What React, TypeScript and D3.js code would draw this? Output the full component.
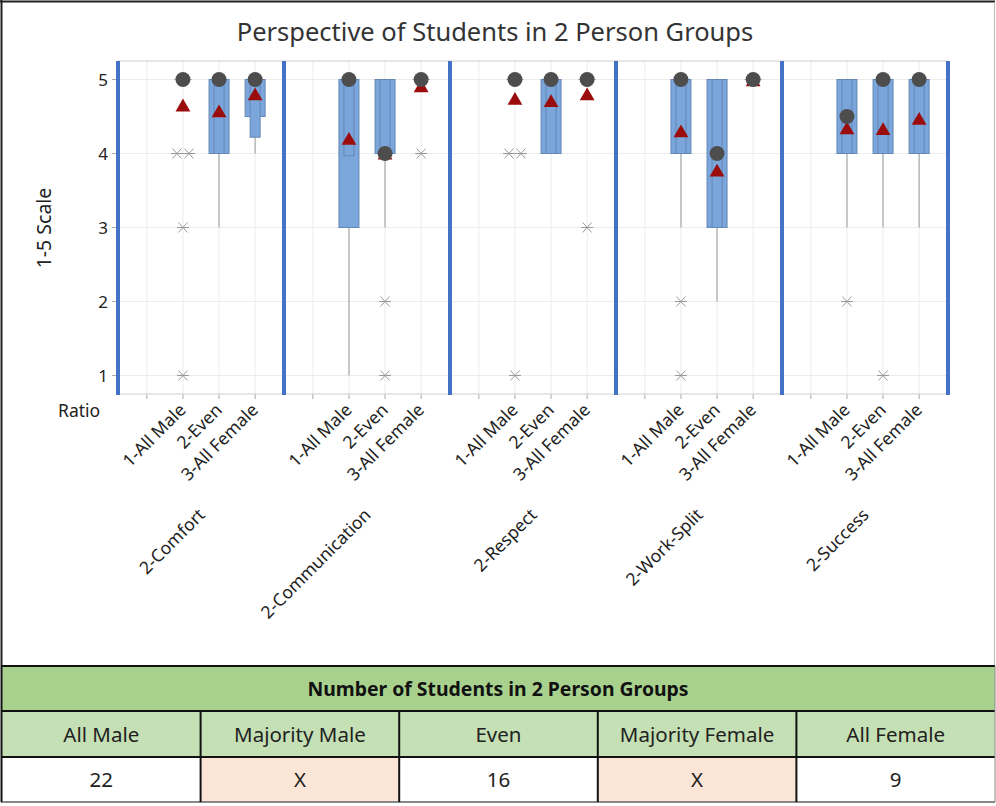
import React from 'react';
import * as d3 from 'd3';

// Panels (question) and groups (ratio) on the x axis
const panels = ['2-Comfort', '2-Communication', '2-Respect', '2-Work-Split', '2-Success'];
const ratios = ['', '1-All Male', '2-Even', '3-All Female'];
const groupKeys = ['1-All Male', '2-Even', '3-All Female'];

const yTicks = [1, 2, 3, 4, 5];

// box statistics, one row per panel, one entry per group
const medians = [[5, 5, 5], [5, 4, 5], [5, 5, 5], [5, 4, 5], [4.5, 5, 5]];
const means = [[4.64, 4.56, 4.79], [4.19, 3.99, 4.9], [4.73, 4.7, 4.79], [4.29, 3.76, 4.98], [4.33, 4.32, 4.46]];
const q1s = [[5, 4, 4.5], [3, 4, 5], [5, 4, 5], [4, 3, 5], [4, 4, 4]];
const q3s = [[5, 5, 5], [5, 5, 5], [5, 5, 5], [5, 5, 5], [5, 5, 5]];
const ciLows = [[5, 4, 4.22], [3.97, 4, 5], [5, 4, 5], [4, 3, 5], [4, 4, 4]];
const ciHighs = [[5, 5, 5], [5, 5, 5], [5, 5, 5], [5, 5, 5], [5, 5, 5]];
const whiskerLows = [[5, 3, 4], [1, 3, 5], [5, 4, 5], [3, 2, 5], [3, 3, 3]];
const outliers = [
  [[4, 4, 3, 1], [], []],
  [[], [2, 1], [4]],
  [[4, 4, 1], [], [3]],
  [[2, 1], [], []],
  [[2], [1], []],
];

// table under the chart
const tableTitle = 'Number of Students in 2 Person Groups';
const groupNames = ['All Male', 'Majority Male', 'Even', 'Majority Female', 'All Female'];
const groupCounts = ['22', 'X', '16', 'X', '9'];

const W = 996;
const H = 806;
const FONT = "'Noto Sans', 'Open Sans', sans-serif";

const plot = { left: 118, right: 948, top: 61, bottom: 394 };

const BLUE = '#4472c4';
const BOX_FILL = '#7ba6db';
const BOX_STROKE = '#6487b5';
const GRID = '#ececec';

const Star: React.FC<{ x: number; y: number }> = ({ x, y }) => (
  <g stroke="#9a9a9a" strokeWidth={1}>
    <line x1={x - 6} y1={y} x2={x + 6} y2={y} />
    <line x1={x - 4.5} y1={y - 5} x2={x + 4.5} y2={y + 5} />
    <line x1={x - 4.5} y1={y + 5} x2={x + 4.5} y2={y - 5} />
  </g>
);

const App: React.FC = () => {
  const y = d3.scaleLinear().domain([0.75, 5.25]).range([plot.bottom, plot.top]);
  const xPanel = d3.scaleBand<string>().domain(panels).range([plot.left, plot.right]);
  const xGroup = d3.scalePoint<string>().domain(ratios).range([0, xPanel.bandwidth()]).padding(0.8);

  const tri = d3.symbol().type(d3.symbolTriangle).size(95)()!;

  const cols = d3.scaleBand<string>().domain(groupNames).range([2, 995]);
  const rowY = [666, 711, 757, 802];

  return (
    <svg width={W} height={H} style={{ position: 'absolute', left: 0, top: 0, background: '#fff' }} fontFamily={FONT}>
      {/* outer frame */}
      <line x1={0} y1={1.5} x2={995} y2={1.5} stroke="#222" strokeWidth={2} />
      <line x1={1.5} y1={0} x2={1.5} y2={666} stroke="#222" strokeWidth={2} />
      <line x1={994.5} y1={2} x2={994.5} y2={666} stroke="#bbb" strokeWidth={1} />

      <text x={495} y={41} textAnchor="middle" fontSize={25.5} fill="#333">
        Perspective of Students in 2 Person Groups
      </text>

      {/* grid */}
      {yTicks.map(t => (
        <g key={`y${t}`}>
          <line x1={plot.left} x2={plot.right} y1={y(t)} y2={y(t)} stroke={GRID} />
          <line x1={plot.left - 6} x2={plot.left} y1={y(t)} y2={y(t)} stroke="#aaa" />
          <text x={108} y={y(t) + 6} textAnchor="end" fontSize={17} fill="#222">{t}</text>
        </g>
      ))}
      {panels.map(p =>
        ratios.map(r => {
          const cx = xPanel(p)! + xGroup(r)!;
          return (
            <g key={`gx${p}${r}`}>
              <line x1={cx} x2={cx} y1={plot.top} y2={plot.bottom} stroke={GRID} />
              <line x1={cx} x2={cx} y1={plot.bottom} y2={plot.bottom + 5} stroke="#aaa" />
            </g>
          );
        })
      )}
      <line x1={plot.left} x2={plot.right} y1={plot.top} y2={plot.top} stroke="#cfcfcf" />
      <line x1={plot.left} x2={plot.right} y1={plot.bottom} y2={plot.bottom} stroke="#cfcfcf" />

      {/* boxes */}
      {panels.map((p, pi) =>
        groupKeys.map((g, gi) => {
          const cx = xPanel(p)! + xGroup(g)!;
          const q1 = q1s[pi][gi], q3 = q3s[pi][gi];
          const ciLo = ciLows[pi][gi], ciHi = ciHighs[pi][gi];
          const boxLow = Math.min(q1, ciLo);
          const outs = outliers[pi][gi];
          return (
            <g key={`b${p}${g}`}>
              {whiskerLows[pi][gi] < boxLow && (
                <line x1={cx} x2={cx} y1={y(boxLow)} y2={y(whiskerLows[pi][gi])} stroke="#a8a8a8" strokeWidth={1.2} />
              )}
              <rect x={cx - 10} width={20} y={y(q3)} height={y(q1) - y(q3)} fill={BOX_FILL} stroke={BOX_STROKE} strokeWidth={1} />
              {ciHi > ciLo && (
                <rect x={cx - 5} width={10} y={y(ciHi)} height={y(ciLo) - y(ciHi)} fill={BOX_FILL} stroke={BOX_STROKE} strokeWidth={1} />
              )}
              {q1 === q3 && (
                <line x1={cx - 9} x2={cx + 9} y1={y(q1)} y2={y(q1)} stroke="#bbb" strokeWidth={1} />
              )}
              {outs.map((v, oi) => {
                const dup = outs.filter(o => o === v).length;
                const idx = outs.slice(0, oi).filter(o => o === v).length;
                const off = dup > 1 ? (idx - (dup - 1) / 2) * 12 : 0;
                return <Star key={oi} x={cx + off} y={y(v)} />;
              })}
              <path d={tri} transform={`translate(${cx},${y(means[pi][gi]) + 1})`} fill="#9b0d0d" />
              <circle cx={cx} cy={y(medians[pi][gi])} r={7.5} fill="#4d4d4d" />
            </g>
          );
        })
      )}

      {/* panel separators */}
      {[...panels.map(p => xPanel(p)!), plot.right].map((x, i) => (
        <line key={`sep${i}`} x1={x} x2={x} y1={plot.top} y2={plot.bottom + 1} stroke={BLUE} strokeWidth={4} />
      ))}

      {/* axis labels */}
      <text transform="translate(51,228) rotate(-90)" textAnchor="middle" fontSize={19.5} fill="#222">1-5 Scale</text>
      <text x={58} y={417} fontSize={17.5} fill="#222">Ratio</text>

      {panels.map(p => (
        <g key={`lab${p}`}>
          {groupKeys.map(g => {
            const cx = xPanel(p)! + xGroup(g)!;
            return (
              <text key={g} transform={`translate(${cx + 4},${411}) rotate(-45)`} textAnchor="end" fontSize={17.5} fill="#222">
                {g}
              </text>
            );
          })}
          <text
            transform={`translate(${xPanel(p)! + xPanel.bandwidth() / 2 + 5},${516}) rotate(-45)`}
            textAnchor="end"
            fontSize={17.5}
            fill="#222"
          >
            {p}
          </text>
        </g>
      ))}

      {/* table */}
      <rect x={2} y={rowY[0]} width={993} height={rowY[1] - rowY[0]} fill="#a9d18e" />
      <text x={498} y={(rowY[0] + rowY[1]) / 2 + 7} textAnchor="middle" fontSize={19.4} fontWeight="bold" fill="#111">
        {tableTitle}
      </text>
      {groupNames.map((g, i) => (
        <g key={`t${g}`}>
          <rect x={cols(g)!} y={rowY[1]} width={cols.bandwidth()} height={rowY[2] - rowY[1]} fill="#c5e0b4" />
          <rect
            x={cols(g)!}
            y={rowY[2]}
            width={cols.bandwidth()}
            height={rowY[3] - rowY[2]}
            fill={groupCounts[i] === 'X' ? '#fbe5d6' : '#fff'}
          />
          <text x={cols(g)! + cols.bandwidth() / 2} y={(rowY[1] + rowY[2]) / 2 + 7.5} textAnchor="middle" fontSize={20.5} fill="#222">
            {g}
          </text>
          <text x={cols(g)! + cols.bandwidth() / 2} y={(rowY[2] + rowY[3]) / 2 + 7.5} textAnchor="middle" fontSize={20.5} fill="#222">
            {groupCounts[i]}
          </text>
        </g>
      ))}
      {rowY.map((ry, i) => (
        <line key={`hr${i}`} x1={1} x2={995} y1={ry} y2={ry} stroke={i === 3 ? '#888' : '#111'} strokeWidth={2} />
      ))}
      <line x1={1.5} x2={1.5} y1={rowY[0]} y2={rowY[3]} stroke="#111" strokeWidth={2} />
      <line x1={995} x2={995} y1={rowY[0]} y2={rowY[3]} stroke="#888" strokeWidth={1} />
      {groupNames.slice(1).map(g => (
        <line key={`vr${g}`} x1={cols(g)!} x2={cols(g)!} y1={rowY[1]} y2={rowY[3]} stroke="#111" strokeWidth={2} />
      ))}
    </svg>
  );
};

export default App;
